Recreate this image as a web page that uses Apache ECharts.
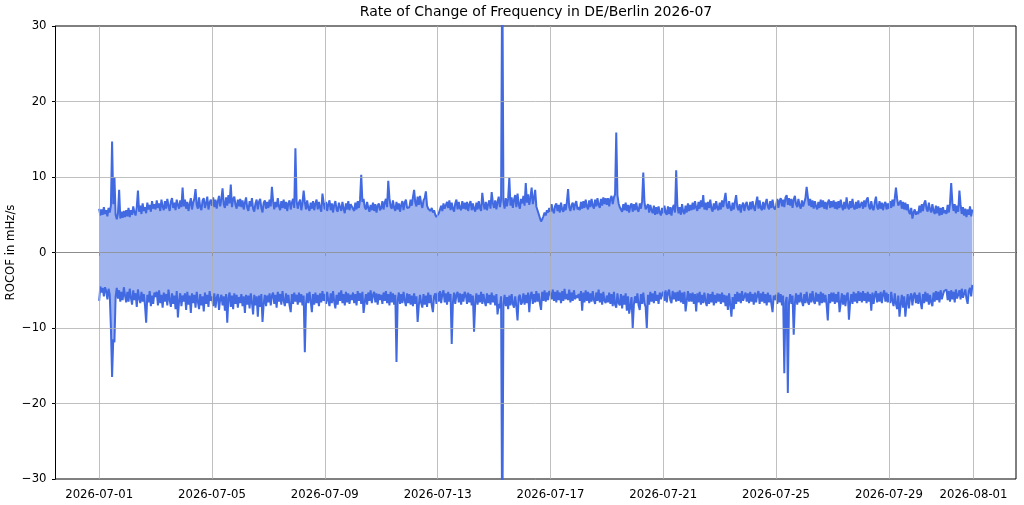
<!DOCTYPE html>
<html>
<head>
<meta charset="utf-8">
<script src="https://cdn.jsdelivr.net/npm/echarts@6/dist/echarts.min.js"></script>
<style>
html,body{margin:0;padding:0;background:#fff;}
#chart{width:1024px;height:505px;}
</style>
</head>
<body>
<div id="chart"></div>
<script>
// Hourly data, 2026-07-01 00:00 UTC onward (one row per day, 24 values)
const START_DATE = '2026-07-01T00:00:00Z';
const TITLE = 'Rate of Change of Frequency in DE/Berlin 2026-07';
const Y_LABEL = 'ROCOF in mHz/s';
const X_TICKS = ['2026-07-01','2026-07-05','2026-07-09','2026-07-13','2026-07-17','2026-07-21','2026-07-25','2026-07-29','2026-08-01'];
const Y_TICKS = [-30,-20,-10,0,10,20,30];

const ROCOF_MAX = [
5.8,4.9,5.7,5.0,6.0,5.1,5.6,4.8,5.9,5.3,6.2,14.7,6.4,10.0,5.0,4.4,5.2,8.3,4.5,5.4,4.6,5.5,4.7,5.6,
4.8,5.9,4.7,5.6,5.0,6.1,5.3,4.9,6.0,8.2,5.4,6.2,5.1,6.5,5.5,6.0,5.2,6.6,5.7,6.3,5.4,6.8,5.8,6.4,
5.7,6.9,5.9,6.5,5.5,7.0,6.1,5.6,6.8,5.8,7.1,6.2,5.5,6.7,7.2,5.9,6.6,5.6,7.0,6.3,5.8,6.9,6.0,8.6,
6.1,7.0,5.8,6.7,5.5,6.4,7.2,5.7,6.6,7.1,8.4,6.3,5.8,7.3,6.0,5.6,6.9,7.2,5.9,6.5,7.4,5.7,6.6,7.0,
6.2,7.3,6.0,7.0,5.8,6.8,7.5,6.1,7.1,8.5,6.4,5.9,7.3,6.2,7.6,6.5,9.0,6.0,7.1,7.4,6.3,5.8,7.0,6.1,
7.1,6.0,6.9,5.7,6.6,7.3,5.9,5.5,6.8,6.1,7.2,5.8,5.4,6.5,7.0,5.7,6.7,7.1,5.9,5.3,6.6,6.9,5.8,6.7,
5.9,7.0,6.1,8.7,6.8,5.7,6.7,6.0,7.2,6.1,5.6,6.8,5.9,7.0,5.8,6.7,5.5,6.5,6.9,5.7,6.6,7.1,5.9,13.8,
6.8,5.8,6.6,7.0,5.6,6.5,8.2,6.7,5.7,6.9,5.9,5.5,6.6,5.8,6.8,5.6,6.5,7.0,5.7,6.7,5.9,5.4,7.8,6.6,
5.7,6.7,5.5,6.4,6.9,5.6,6.5,5.3,6.3,6.8,5.7,5.4,6.6,6.0,5.5,6.7,5.8,5.2,6.5,5.7,6.8,5.6,6.4,6.6,
5.8,5.5,6.6,5.7,6.8,5.9,7.0,10.3,6.7,7.1,6.0,5.7,6.7,5.9,5.4,6.3,5.6,6.6,5.5,6.4,5.3,6.2,6.5,5.6,
5.9,6.8,5.7,6.6,7.1,6.0,9.5,7.2,6.1,5.8,6.9,5.9,5.5,6.7,5.7,6.5,5.4,6.3,6.8,5.6,6.6,7.0,5.9,5.7,
6.0,7.0,6.2,7.3,8.3,6.6,6.1,7.4,6.3,7.5,6.5,5.9,6.9,7.2,8.1,6.2,5.8,6.0,5.5,5.9,5.3,5.6,5.0,4.7,
4.5,5.2,5.3,6.2,5.5,6.5,5.8,5.6,6.7,5.9,6.9,5.6,6.6,5.8,5.4,6.5,7.0,5.7,6.7,5.9,5.6,6.8,5.8,6.6,
5.7,6.7,5.5,6.4,6.8,5.6,6.5,5.8,5.4,6.6,5.7,6.8,5.9,5.5,7.9,6.5,5.7,6.7,5.6,6.4,6.9,5.8,8.0,6.6,
5.9,6.9,5.7,6.7,7.4,6.0,7.0,40.0,6.8,5.8,7.2,6.1,7.1,9.9,6.2,7.3,5.9,7.0,7.6,6.0,7.8,6.4,5.8,7.1,
6.5,7.5,6.2,9.2,6.6,7.7,6.3,7.3,8.6,6.4,7.2,8.3,6.1,5.6,5.1,4.6,4.1,4.4,4.8,5.3,4.9,5.6,5.3,5.9,
5.4,6.4,5.6,5.2,6.2,6.5,5.5,6.3,5.3,6.6,5.7,5.4,6.4,5.6,6.7,8.4,6.0,5.5,6.3,6.6,5.6,6.4,6.8,5.7,
6.0,5.6,6.7,5.8,6.8,5.9,7.0,6.1,5.7,6.9,6.0,7.1,6.2,5.8,7.0,6.1,7.2,6.3,5.9,7.1,6.2,7.3,6.4,7.2,
6.3,7.2,6.1,7.1,7.5,6.4,7.3,7.7,15.9,7.6,6.5,6.0,6.2,5.4,6.4,5.6,6.6,5.5,6.3,5.3,6.2,6.5,5.4,6.4,
5.6,6.6,5.7,5.4,6.5,5.8,6.8,10.6,6.7,5.7,5.5,6.4,5.3,6.3,5.6,5.2,6.2,5.0,6.0,5.1,6.1,5.3,4.9,5.9,
5.2,6.2,5.3,5.0,6.1,5.1,6.0,4.9,5.9,6.3,5.3,10.9,6.2,5.2,6.0,5.0,6.4,5.4,5.1,6.2,5.3,6.5,5.5,6.3,
5.6,6.6,5.7,6.8,5.9,5.5,6.7,5.8,6.9,6.0,7.6,5.7,6.6,5.6,6.7,5.9,7.0,5.8,5.4,6.5,5.7,6.8,5.9,5.6,
6.6,5.7,6.9,6.0,7.0,7.9,6.2,5.8,6.8,5.9,5.5,6.6,5.7,6.7,7.6,6.0,5.6,6.4,5.3,6.2,6.6,5.5,6.3,6.7,
5.9,5.6,6.7,5.7,6.8,6.0,5.5,6.6,7.4,5.8,6.9,5.9,5.6,6.7,5.7,6.5,7.1,6.1,5.7,6.8,5.9,7.0,6.0,5.7,
6.2,7.1,5.9,6.9,7.2,6.1,7.0,6.0,7.3,7.6,6.3,7.2,6.2,7.1,5.9,7.0,7.5,6.4,6.0,7.1,6.2,5.8,6.9,6.1,
6.3,7.2,8.7,7.4,6.2,7.1,6.0,6.9,5.8,6.8,6.1,5.7,6.7,5.9,7.0,6.0,6.9,5.8,6.7,5.7,6.6,7.0,5.9,6.8,
6.0,6.9,5.8,6.7,5.7,6.8,5.9,7.0,6.1,5.6,6.7,5.8,7.3,6.1,5.7,6.8,5.9,7.1,6.0,5.7,6.7,5.8,6.9,5.9,
5.7,6.7,5.8,6.9,6.0,7.0,7.3,6.1,5.7,6.8,5.9,5.6,6.7,7.4,6.0,5.7,6.8,5.8,6.6,5.6,6.4,6.7,5.7,6.5,
5.8,6.8,5.9,7.0,6.1,7.2,8.6,7.1,6.2,6.0,6.9,5.8,6.7,5.7,6.6,5.6,6.4,5.4,5.1,5.9,4.5,5.3,5.7,5.0,
5.4,5.1,6.2,5.3,6.4,5.5,6.5,6.9,5.8,5.4,6.6,5.7,5.3,6.4,5.5,5.1,6.2,5.2,6.1,4.9,5.9,5.0,6.0,5.2,
5.6,5.1,6.3,5.3,6.5,9.2,6.6,5.5,6.4,5.2,6.2,5.4,8.2,6.3,5.1,6.0,4.9,5.8,4.7,5.7,5.0,6.1,4.8,5.7
];

const ROCOF_MIN = [
-6.4,-4.5,-5.3,-4.7,-5.8,-4.6,-5.1,-6.2,-4.8,-5.6,-10.0,-16.5,-11.5,-11.9,-5.9,-4.7,-6.1,-5.0,-6.5,-5.2,-6.3,-4.6,-5.7,-6.6,
-5.2,-6.5,-4.8,-6.0,-6.9,-5.0,-6.3,-5.4,-7.2,-4.9,-6.1,-6.7,-5.2,-6.5,-5.5,-7.0,-9.3,-5.6,-6.6,-5.1,-7.1,-5.7,-6.8,-5.3,
-5.9,-5.2,-7.0,-5.0,-6.7,-5.6,-7.3,-5.3,-6.5,-5.5,-7.0,-4.9,-6.3,-7.2,-5.4,-6.8,-5.7,-7.5,-5.1,-8.6,-6.4,-5.4,-7.1,-5.7,
-6.5,-5.4,-7.6,-5.2,-6.9,-5.7,-8.0,-5.4,-6.7,-5.6,-7.3,-5.2,-6.5,-7.5,-5.5,-7.0,-5.8,-7.8,-5.3,-6.8,-5.6,-7.2,-5.1,-6.4,
-5.8,-7.1,-5.4,-7.3,-6.0,-5.5,-7.6,-6.1,-5.6,-7.0,-5.8,-7.7,-5.5,-9.3,-6.0,-5.3,-7.2,-5.7,-7.5,-5.4,-6.8,-5.6,-7.3,-5.9,
-6.7,-5.5,-7.1,-5.8,-8.0,-5.6,-6.9,-5.7,-7.4,-5.4,-6.6,-8.2,-5.6,-7.0,-5.8,-8.5,-5.7,-7.2,-5.5,-9.2,-6.8,-5.6,-7.1,-5.7,
-6.6,-5.4,-7.0,-5.7,-5.3,-6.8,-5.6,-7.3,-5.2,-6.5,-5.5,-6.9,-5.1,-6.4,-7.1,-5.4,-6.7,-5.6,-7.0,-7.9,-5.5,-6.8,-5.3,-6.5,
-5.6,-6.9,-5.3,-6.6,-5.5,-7.0,-5.7,-13.2,-6.8,-5.4,-6.7,-5.2,-6.4,-7.9,-5.5,-6.9,-5.3,-6.7,-5.6,-7.1,-5.4,-6.6,-5.1,-6.4,
-5.5,-6.8,-5.2,-6.4,-7.1,-5.4,-6.7,-5.1,-6.5,-7.4,-5.6,-6.9,-5.3,-6.4,-5.0,-6.7,-5.5,-7.0,-5.2,-6.6,-5.4,-6.8,-5.6,-6.3,
-5.3,-6.7,-5.5,-7.0,-5.1,-6.4,-5.4,-6.8,-5.2,-8.0,-6.6,-5.5,-6.9,-5.3,-6.4,-5.0,-6.7,-5.6,-5.2,-6.6,-5.4,-6.9,-5.5,-6.3,
-5.6,-6.8,-5.3,-6.4,-5.1,-6.7,-5.5,-7.0,-5.2,-6.6,-5.4,-6.9,-5.6,-14.5,-6.4,-5.3,-6.8,-5.5,-6.7,-5.2,-6.4,-7.1,-5.4,-6.7,
-5.5,-6.9,-5.7,-7.1,-5.4,-6.8,-5.8,-9.2,-7.0,-5.6,-6.7,-7.3,-5.5,-6.9,-5.7,-7.2,-5.3,-6.7,-5.6,-7.0,-7.9,-5.8,-5.4,-6.8,
-5.3,-6.5,-5.1,-6.7,-5.5,-5.0,-6.6,-5.4,-6.9,-5.2,-6.5,-5.5,-12.1,-6.7,-5.3,-6.8,-5.6,-5.2,-6.6,-5.4,-6.9,-5.5,-6.5,-5.2,
-5.6,-6.8,-5.3,-6.6,-5.5,-7.0,-5.7,-10.5,-6.7,-5.4,-6.9,-5.6,-6.6,-5.2,-6.8,-5.5,-6.5,-7.1,-5.4,-6.7,-5.6,-6.9,-5.3,-6.6,
-5.7,-7.0,-5.5,-8.2,-6.8,-7.4,-5.8,-40.0,-6.9,-5.6,-7.1,-5.9,-7.5,-5.7,-7.0,-5.5,-6.8,-7.3,-5.8,-7.1,-9.0,-5.9,-5.6,-6.9,
-6.6,-5.4,-6.9,-5.6,-6.7,-5.3,-7.9,-5.7,-5.2,-6.8,-5.5,-6.6,-5.1,-6.5,-5.4,-6.7,-7.6,-5.2,-6.4,-5.0,-6.5,-5.3,-6.3,-5.1,
-5.4,-6.2,-4.9,-6.4,-5.2,-6.6,-5.0,-6.3,-5.3,-6.7,-5.1,-6.4,-4.8,-6.2,-5.5,-6.3,-4.9,-6.6,-5.3,-6.4,-5.0,-6.2,-5.7,-6.0,
-5.5,-6.4,-5.1,-7.7,-5.3,-6.6,-5.0,-6.4,-5.2,-6.7,-5.4,-6.5,-5.1,-6.3,-6.8,-5.3,-6.4,-4.9,-6.6,-5.4,-6.9,-5.2,-6.4,-6.7,
-5.7,-6.6,-5.3,-6.8,-5.5,-7.1,-5.2,-6.9,-7.3,-5.4,-6.7,-7.0,-5.5,-7.4,-5.7,-6.9,-5.4,-7.7,-5.8,-8.1,-7.1,-5.9,-10.0,-6.9,
-5.8,-6.7,-5.4,-7.0,-7.6,-5.5,-6.8,-5.3,-6.7,-7.2,-10.0,-5.6,-6.9,-5.2,-6.5,-5.4,-6.7,-5.1,-6.4,-5.6,-6.8,-5.3,-6.2,-5.5,
-5.2,-6.4,-5.0,-6.6,-5.3,-4.9,-6.3,-6.7,-5.1,-6.2,-5.3,-6.5,-5.2,-6.4,-5.0,-6.6,-5.3,-6.8,-5.2,-7.8,-6.4,-5.1,-6.5,-5.4,
-6.5,-5.3,-6.8,-5.5,-7.8,-5.4,-6.6,-5.2,-6.9,-5.6,-6.7,-5.3,-6.5,-7.1,-5.4,-6.8,-5.5,-6.6,-5.2,-7.0,-5.6,-6.7,-5.4,-6.5,
-5.5,-6.8,-5.3,-6.6,-5.6,-7.1,-5.7,-7.6,-5.4,-6.9,-8.5,-5.9,-7.5,-5.5,-6.8,-5.2,-6.5,-5.4,-6.7,-5.1,-6.4,-5.8,-5.3,-6.5,
-5.4,-6.7,-5.2,-6.5,-5.5,-6.9,-5.3,-6.6,-5.6,-5.1,-6.8,-5.4,-6.5,-5.2,-6.7,-5.5,-7.0,-5.3,-6.6,-5.6,-6.8,-7.9,-5.7,-6.3,
-5.6,-6.8,-5.3,-6.6,-5.5,-7.0,-5.7,-16.0,-6.7,-5.9,-18.6,-6.6,-5.5,-6.8,-5.7,-10.9,-6.7,-5.4,-6.9,-5.6,-6.6,-5.3,-6.5,-7.1,
-5.5,-6.7,-5.2,-6.5,-6.9,-5.4,-6.6,-5.1,-6.4,-6.8,-5.3,-6.5,-5.5,-7.0,-5.2,-6.7,-5.4,-6.6,-5.6,-6.9,-9.0,-5.5,-6.7,-5.3,
-6.5,-5.3,-6.8,-5.5,-6.6,-5.2,-7.9,-6.7,-5.4,-6.9,-5.6,-7.1,-5.7,-5.3,-8.9,-6.6,-5.5,-6.8,-5.2,-6.5,-5.4,-6.7,-5.1,-6.4,
-5.3,-6.6,-5.1,-6.4,-5.4,-6.7,-5.2,-6.5,-5.5,-7.7,-5.3,-6.8,-5.6,-5.1,-6.6,-5.4,-6.5,-5.2,-6.7,-5.5,-5.0,-6.5,-5.3,-6.6,
-5.5,-6.7,-5.2,-6.5,-7.1,-5.4,-6.8,-7.5,-5.7,-8.5,-6.9,-5.6,-7.3,-5.8,-8.5,-6.8,-5.5,-7.4,-5.9,-5.4,-7.0,-5.7,-5.3,-6.7,
-5.6,-6.8,-5.3,-6.6,-7.5,-5.5,-6.7,-5.2,-6.5,-5.4,-6.9,-5.6,-6.6,-7.1,-5.3,-6.5,-5.1,-6.3,-5.2,-6.6,-5.0,-6.2,-5.6,-5.1,
-5.3,-4.9,-6.3,-5.1,-6.5,-5.0,-6.2,-5.2,-6.6,-4.9,-6.1,-5.6,-5.0,-6.2,-4.8,-6.0,-5.5,-4.9,-6.1,-6.8,-5.1,-4.7,-5.8,-4.3
];

const HOUR = 3600000;
const t0 = Date.parse(START_DATE);
const times = ROCOF_MAX.map((_, i) => t0 + i * HOUR);
const tEnd = times[times.length - 1];
const span = tEnd - t0;
const xTickVals = X_TICKS.map(s => Date.parse(s + 'T00:00:00Z'));
const tickLabel = {};
X_TICKS.forEach((s, i) => { tickLabel[xTickVals[i]] = s; });

const maxData = ROCOF_MAX.map((v, i) => [times[i], v]);
const minData = ROCOF_MIN.map((v, i) => [times[i], v]);

const LINE_COLOR = '#4169e1';
const FILL_COLOR = 'rgba(65,105,225,0.5)';
const GRID_COLOR = '#b0b0b0';
const FONT = 'DejaVu Sans';

const gridLines = [];
xTickVals.forEach(v => gridLines.push({ xAxis: v }));
Y_TICKS.filter(v => v > -30 && v < 30).forEach(v => gridLines.push({ yAxis: v }));

const chart = echarts.init(document.getElementById('chart'), null, { renderer: 'canvas' });
chart.setOption({
  animation: false,
  backgroundColor: '#ffffff',
  textStyle: { fontFamily: FONT },
  title: {
    text: TITLE,
    left: 536,
    top: 5,
    textAlign: 'center',
    padding: 0,
    textStyle: { fontFamily: FONT, fontSize: 14, fontWeight: 'normal', color: '#000' }
  },
  grid: {
    left: 55.5, right: 8, top: 26, bottom: 26,
    show: true, borderColor: '#000', borderWidth: 1, backgroundColor: 'transparent',
    containLabel: false,
    outerBoundsMode: 'none'
  },
  xAxis: {
    type: 'value',
    min: t0 - 0.05 * span,
    max: tEnd + 0.05 * span,
    axisLine: { show: true, lineStyle: { color: '#000', width: 1 } },
    axisTick: { show: true, inside: false, length: 3.5, lineStyle: { color: '#000', width: 1 }, customValues: xTickVals },
    axisLabel: {
      show: true, margin: 10, color: '#000', fontFamily: FONT, fontSize: 11.7,
      customValues: xTickVals,
      formatter: v => tickLabel[v] || ''
    },
    splitLine: { show: false }
  },
  yAxis: {
    type: 'value',
    min: -30, max: 30, interval: 10,
    name: Y_LABEL,
    nameLocation: 'middle',
    nameGap: 39,
    nameMoveOverlap: false,
    nameTextStyle: { fontFamily: FONT, fontSize: 11.7, color: '#000' },
    axisLine: { show: true, lineStyle: { color: '#000', width: 1 } },
    axisTick: { show: true, inside: false, length: 3.5, lineStyle: { color: '#000', width: 1 } },
    axisLabel: {
      margin: 9, color: '#000', fontFamily: FONT, fontSize: 11.7,
      formatter: v => (v < 0 ? '\u2212' + (-v) : '' + v)
    },
    splitLine: { show: false }
  },
  series: [
    {
      name: 'fillMax', type: 'line', data: maxData, showSymbol: false, symbol: 'none',
      lineStyle: { width: 0, opacity: 0 }, areaStyle: { color: FILL_COLOR, opacity: 1, origin: 0 },
      z: 1, silent: true
    },
    {
      name: 'fillMin', type: 'line', data: minData, showSymbol: false, symbol: 'none',
      lineStyle: { width: 0, opacity: 0 }, areaStyle: { color: FILL_COLOR, opacity: 1, origin: 0 },
      z: 1, silent: true
    },
    {
      name: 'grid', type: 'line', data: [], z: 2, silent: true,
      markLine: {
        silent: true, symbol: 'none', animation: false,
        label: { show: false },
        lineStyle: { color: GRID_COLOR, width: 0.8, type: 'solid' },
        data: gridLines
      }
    },
    {
      name: 'max', type: 'line', data: maxData, showSymbol: false, symbol: 'none',
      lineStyle: { color: LINE_COLOR, width: 2 }, z: 3
    },
    {
      name: 'min', type: 'line', data: minData, showSymbol: false, symbol: 'none',
      lineStyle: { color: LINE_COLOR, width: 2 }, z: 3
    }
  ]
});
</script>
</body>
</html>
